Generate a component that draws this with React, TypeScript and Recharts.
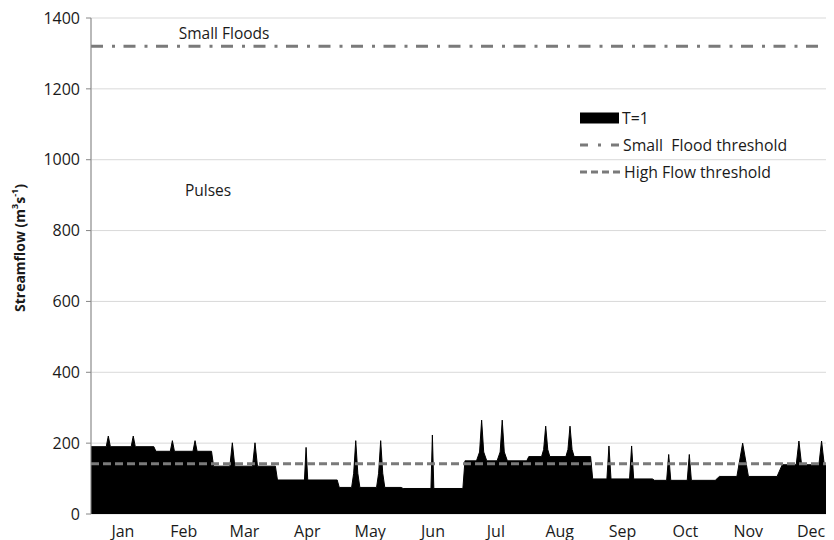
import React from 'react';
import {
  ComposedChart,
  Area,
  XAxis,
  YAxis,
  CartesianGrid,
  ReferenceLine,
  ReferenceDot,
  Legend,
  Label,
} from 'recharts';

// ---- data ----
const monthNames = ['Jan', 'Feb', 'Mar', 'Apr', 'May', 'Jun', 'Jul', 'Aug', 'Sep', 'Oct', 'Nov', 'Dec'];
const monthStartDays = [0, 31, 59, 90, 120, 151, 181, 212, 243, 273, 304, 334, 365];
const yTicks = [0, 200, 400, 600, 800, 1000, 1200, 1400];

const smallFloodThreshold = 1320;
const highFlowThreshold = 142;

// daily streamflow breakpoints (day of year, m3/s)
const flowDays = [
  0, 7.4, 8.4, 9.4, 19.5, 20.5, 21.5, 30.5,
  31.5, 38.5, 39.5, 40.5, 49.5, 50.5, 51.5, 58.5,
  59.5, 67.4, 68.6, 69.8, 78.4, 79.6, 80.8, 89.5,
  90.5, 103.6, 104.4, 105.2, 119.5,
  120.5, 126.5, 127.5, 128.5, 129.5, 130.5, 138.6, 139.6, 140.6, 141.6, 142.6, 150.5,
  151.5, 165, 165.7, 166.4, 180.5,
  181.5, 187.1, 188.6, 189.6, 190.6, 192.1, 197.1, 198.6, 199.6, 200.6, 202.1, 211.5,
  212.5, 218.7, 219.7, 220.7, 221.7, 222.7, 230.5, 231.5, 232.5, 233.5, 234.5, 242.5,
  243.5, 250.4, 251.4, 252.4, 261.4, 262.4, 263.4, 272.5,
  273.5, 279.4, 280.4, 281.4, 289.4, 290.4, 291.4, 303,
  305, 313.5, 316.3, 319.1, 333,
  335.5, 342.3, 343.6, 344.9, 353.3, 354.6, 355.9, 365,
];
const flowValues = [
  190, 190, 220, 190, 190, 220, 190, 190,
  177, 177, 207, 177, 177, 207, 177, 177,
  135, 135, 201, 135, 135, 201, 135, 135,
  96, 96, 188, 96, 96,
  75, 75, 115, 207, 115, 75, 75, 115, 207, 115, 75, 75,
  72, 72, 223, 72, 72,
  150, 150, 175, 265, 175, 150, 150, 175, 265, 175, 150, 150,
  162, 162, 182, 248, 182, 162, 162, 182, 248, 182, 162, 162,
  99, 99, 192, 99, 99, 192, 99, 99,
  95, 95, 168, 95, 95, 168, 95, 95,
  106, 106, 200, 106, 106,
  139, 139, 206, 139, 139, 206, 139, 139,
];

const annotationTexts = ['Small Floods', 'Pulses'];
const annotationDays = [64.6, 56.8];
const annotationValues = [1356, 914];

const data = flowDays.map((d, i) => ({ day: d, flow: flowValues[i] }));
const monthMidDays = monthNames.map((_, i) => (monthStartDays[i] + monthStartDays[i + 1]) / 2);

const FONT = '"Open Sans", sans-serif';
const TEXT = '#1a1a1a';
const AXIS = '#868686';
const GRID = '#d9d9d9';
const THRESH = '#7a7a7a';

const YTitle = (props: any) => {
  const vb = props.viewBox || { x: 0, y: 0, width: 0, height: 0 };
  const cx = vb.x + 11;
  const cy = vb.y + vb.height / 2 - 18;
  return (
    <text
      x={cx}
      y={cy}
      transform={`rotate(-90, ${cx}, ${cy})`}
      textAnchor="middle"
      dominantBaseline="central"
      fontFamily={FONT}
      fontWeight="bold"
      fontSize={14}
      fill={TEXT}
    >
      Streamflow (m
      <tspan dy={-5} fontSize={9}>3</tspan>
      <tspan dy={5}>s</tspan>
      <tspan dy={-5} fontSize={9}>-1</tspan>
      <tspan dy={5}>)</tspan>
    </text>
  );
};

const renderLegend = () => {
  const row: React.CSSProperties = {
    display: 'flex',
    alignItems: 'center',
    height: 27,
    whiteSpace: 'pre',
  };
  return (
    <div style={{ fontFamily: FONT, fontSize: 15.8, color: TEXT }}>
      <div style={row}>
        <svg width={42} height={14} style={{ display: 'block' }}>
          <rect x={0} y={1.5} width={39} height={11} fill="#000" />
        </svg>
        <span>T=1</span>
      </div>
      <div style={row}>
        <svg width={43} height={14} style={{ display: 'block' }}>
          <line x1={0} y1={7} x2={39} y2={7} stroke={THRESH} strokeWidth={3} strokeDasharray="8 10 3 10 8" />
        </svg>
        <span>Small  Flood threshold</span>
      </div>
      <div style={row}>
        <svg width={44} height={14} style={{ display: 'block' }}>
          <line x1={0} y1={7} x2={40} y2={7} stroke={THRESH} strokeWidth={3} strokeDasharray="7 4" />
        </svg>
        <span>High Flow threshold</span>
      </div>
    </div>
  );
};

export default function App() {
  return (
    <div style={{ width: 826, height: 532, overflow: 'hidden', fontFamily: FONT }}>
      <ComposedChart
        width={845}
        height={540}
        data={data}
        margin={{ top: 10, right: 10, bottom: 4, left: 0 }}
      >
        <CartesianGrid stroke={GRID} strokeWidth={1} />
        <XAxis
          dataKey="day"
          type="number"
          domain={[0, 365]}
          ticks={monthStartDays}
          tick={false}
          tickSize={6}
          height={0}
          stroke={AXIS}
          allowDecimals
        />
        <XAxis
          xAxisId="labels"
          dataKey="day"
          type="number"
          domain={[0, 365]}
          ticks={monthMidDays}
          tickFormatter={(v: number) => monthNames[monthMidDays.indexOf(v)] ?? ''}
          axisLine={false}
          tickLine={false}
          tickSize={6}
          tickMargin={6}
          height={30}
          interval={0}
          tick={{ fill: TEXT, fontSize: 16, fontFamily: FONT }}
        />
        <YAxis
          type="number"
          domain={[0, 1400]}
          ticks={yTicks}
          width={83}
          tickSize={5}
          tickMargin={6}
          stroke={AXIS}
          interval={0}
          tick={{ fill: TEXT, fontSize: 16, fontFamily: FONT }}
        >
          <Label content={<YTitle />} />
        </YAxis>
        <Area
          type="linear"
          dataKey="flow"
          fill="#000"
          fillOpacity={1}
          stroke="#000"
          strokeWidth={1}
          isAnimationActive={false}
          activeDot={false}
        />
        <ReferenceLine
          y={smallFloodThreshold}
          stroke={THRESH}
          strokeWidth={3}
          strokeDasharray="12 9 3 8.5"
        />
        <ReferenceLine
          y={highFlowThreshold}
          stroke={THRESH}
          strokeWidth={3}
          strokeDasharray="8 4"
        />
        {annotationTexts.map((t, i) => (
          <ReferenceDot
            key={t}
            x={annotationDays[i]}
            y={annotationValues[i]}
            r={0}
            fill="none"
            stroke="none"
            label={{ value: t, position: 'center', fill: TEXT, fontSize: 15.5, fontFamily: FONT }}
          />
        ))}
        <Legend
          content={renderLegend}
          layout="vertical"
          align="center"
          verticalAlign="middle"
          wrapperStyle={{ left: 572, top: 96, width: 260, height: 81 }}
        />
      </ComposedChart>
    </div>
  );
}
